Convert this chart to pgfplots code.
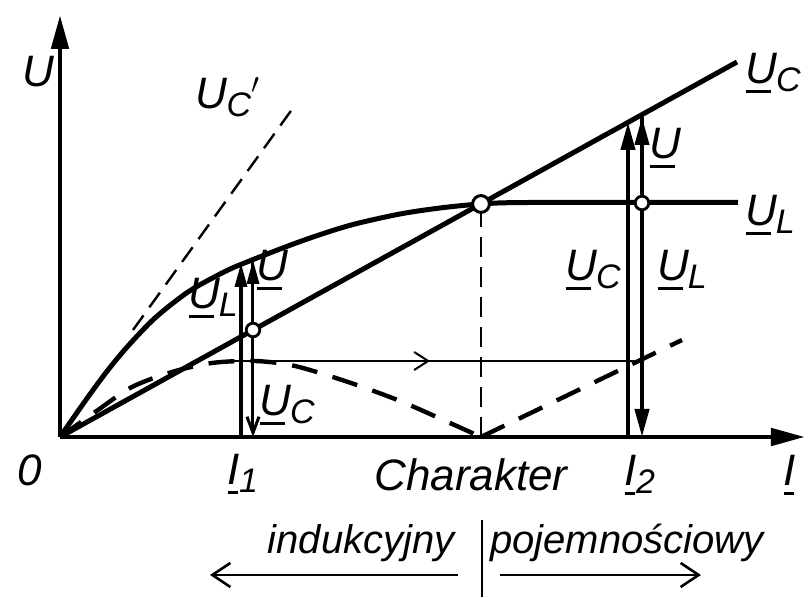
\documentclass[border=0pt]{standalone}
\usepackage{fontspec}
\setmainfont{Liberation Sans}
\usepackage{pgfplots}
\pgfplotsset{compat=1.18}
\usetikzlibrary{arrows.meta}

% underlined letter, subscript
\newcommand\ul[1]{\setbox0\hbox{#1}\rlap{\kern0.02\wd0\rule[-5pt]{0.8\wd0}{1.7pt}}\box0}
\newcommand\sub[1]{\kern-0.5pt\raisebox{-4pt}{\fontsize{17}{17}\selectfont #1}}

\begin{document}
\begin{tikzpicture}[lab/.style={font=\fontsize{22}{22}\selectfont\itshape, inner sep=0pt},
                    word/.style={font=\fontsize{20}{20}\selectfont\itshape, inner sep=0pt}]
\begin{axis}[
  x=0.5pt, y=0.5pt,
  xmin=0, xmax=745, ymin=0, ymax=422,
  axis lines=left, ticks=none, clip=false,
  axis line style={line width=2.4pt, -{Triangle[length=17pt,width=8.5pt]}},
]
% capacitor line and inductor curve
\addplot[line width=2.5pt] coordinates {(0,0) (677,375)};
\addplot[line width=2.5pt, smooth] coordinates {
  (0,0) (28,40) (48,67) (68,91) (95,119) (128,145) (162,164) (182,173) (228,191)
  (262,203) (295,213) (340,223) (380,229) (421,233) (470,234.5) (678,234.5)};
% resulting voltage |U_L - U_C|
\addplot[line width=2.2pt, dash pattern=on 13pt off 8pt, smooth] coordinates {
  (0,0) (38,27) (72,50) (112,65) (152,74) (195,76) (235,71) (288,55) (340,36) (390,14) (421,0)};
\addplot[line width=2.2pt, dash pattern=on 13pt off 8pt] coordinates {(421,0) (622,97)};
% U_C' tangent
\addplot[line width=1.2pt, dash pattern=on 9pt off 5pt] coordinates {(73,107) (233,329)};
% resonance line
\addplot[line width=1pt, dash pattern=on 10pt off 5pt] coordinates {(421,0) (421,233)};
% jump I1 -> I2
\addplot[line width=1pt, -{Straight Barb[length=7pt,width=9pt]}] coordinates {(158,76) (370,76)};
\addplot[line width=1pt] coordinates {(365,76) (582,76)};
% phasors at I1
\addplot[line width=1.7pt, -{Triangle[length=12pt,width=6pt]}] coordinates {(181,0) (181,174)};
\addplot[line width=1.5pt, -{Straight Barb[length=8pt,width=6pt]}] coordinates {(193,176) (193,0)};
\addplot[line width=1.5pt, -{Triangle[length=12pt,width=6pt]}] coordinates {(193,107) (193,177)};
% phasors at I2
\addplot[line width=2pt, -{Triangle[length=14pt,width=7pt]}] coordinates {(568,0) (568,315)};
\addplot[line width=2pt, -{Triangle[length=14pt,width=7pt]}] coordinates {(582,320) (582,0)};
\addplot[line width=2pt, -{Triangle[length=14pt,width=7pt]}] coordinates {(582,234) (582,320)};
% operating points
\addplot[only marks, mark=*, mark size=3.4pt, mark options={fill=white, draw=black, line width=1.4pt}]
  coordinates {(193,107) (582,234)};
\addplot[only marks, mark=*, mark size=4.2pt, mark options={fill=white, draw=black, line width=1.5pt}]
  coordinates {(421,233)};
% character of the circuit
\addplot[line width=1pt] coordinates {(422,-83) (422,-160)};
\addplot[line width=1.3pt, -{Straight Barb[length=9pt,width=12pt]}] coordinates {(398,-138) (150,-138)};
\addplot[line width=1.3pt, -{Straight Barb[length=9pt,width=12pt]}] coordinates {(440,-138) (641,-138)};

% labels
\node[lab] at (axis cs:-22,365) {U};
\node[lab] at (axis cs:168,340) {U\sub{C}$'$};
\node[lab] at (axis cs:713,364) {\ul{U}\sub{C}};
\node[lab] at (axis cs:710,222) {\ul{U}\sub{L}};
\node[lab] at (axis cs:153,139) {\ul{U}\sub{L}};
\node[lab] at (axis cs:212,167) {\ul{U}};
\node[lab] at (axis cs:227,32) {\ul{U}\sub{C}};
\node[lab] at (axis cs:605,289) {\ul{U}};
\node[lab] at (axis cs:533,167) {\ul{U}\sub{C}};
\node[lab] at (axis cs:622,167) {\ul{U}\sub{L}};
\node[lab] at (axis cs:-30,-33) {0};
\node[lab] at (axis cs:183,-37) {\ul{I}\sub{1}};
\node[lab] at (axis cs:411,-38) {Charakter};
\node[lab] at (axis cs:580,-38) {\ul{I}\sub{2}};
\node[lab] at (axis cs:730,-38) {\ul{I}};
\node[word, anchor=east] at (axis cs:395,-106) {indukcyjny};
\node[word, anchor=west] at (axis cs:430,-106) {pojemnościowy};

\path (axis cs:-60,-160) rectangle (axis cs:751,437);
\end{axis}
\end{tikzpicture}
\end{document}
